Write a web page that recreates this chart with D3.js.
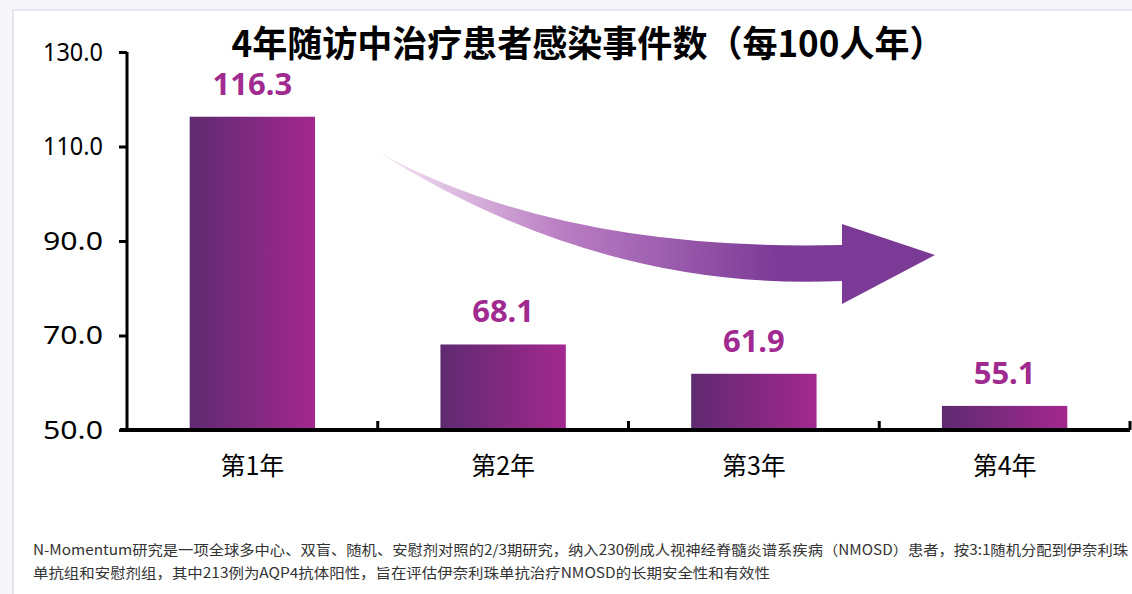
<!DOCTYPE html>
<html>
<head>
<meta charset="utf-8">
<script src="https://cdn.jsdelivr.net/npm/d3@7"></script>
<style>
	body { margin: 0; background: #f7f7fa; }
	svg { display: block; }
</style>
</head>
<body>
<div id="chart"></div>
<script>
// data
var categories = ["第1年", "第2年", "第3年", "第4年"];
var values = [116.3, 68.1, 61.9, 55.1];
var yTicks = [50, 70, 90, 110, 130];
var title = "4年随访中治疗患者感染事件数（每100人年）";
var footnotes = [
	"N-Momentum研究是一项全球多中心、双盲、随机、安慰剂对照的2/3期研究，纳入230例成人视神经脊髓炎谱系疾病（NMOSD）患者，按3:1随机分配到伊奈利珠",
	"单抗组和安慰剂组，其中213例为AQP4抗体阳性，旨在评估伊奈利珠单抗治疗NMOSD的长期安全性和有效性"
];

var W = 1132, H = 594;
var cjk = "'Noto Sans CJK SC', 'Noto Sans', sans-serif";
var num = "'Noto Sans', 'Noto Sans CJK SC', sans-serif";

var svg = d3.select("#chart")
	.append("svg")
		.attr("width", W)
		.attr("height", H);

var defs = svg.append("defs");
var barGrad = defs.append("linearGradient")
	.attr("id", "barGrad")
	.attr("x1", "0%").attr("x2", "100%").attr("y1", "0%").attr("y2", "0%");
barGrad.append("stop").attr("offset", "0%").attr("stop-color", "#5f2a70");
barGrad.append("stop").attr("offset", "100%").attr("stop-color", "#a3288f");

var arrowGrad = defs.append("linearGradient")
	.attr("id", "arrowGrad")
	.attr("gradientUnits", "userSpaceOnUse")
	.attr("x1", 378).attr("x2", 780).attr("y1", 0).attr("y2", 0);
arrowGrad.append("stop").attr("offset", "0%").attr("stop-color", "#f4e8f4");
arrowGrad.append("stop").attr("offset", "45%").attr("stop-color", "#bb7fc4");
arrowGrad.append("stop").attr("offset", "100%").attr("stop-color", "#7b3a96");

// panel frame
svg.append("rect")
	.attr("x", 13).attr("y", 10)
	.attr("width", W).attr("height", H)
	.attr("fill", "#ffffff")
	.attr("stroke", "#e6e4ee")
	.attr("stroke-width", 2);

// scales
var xScale = d3.scaleBand()
	.domain(categories)
	.range([127, 1130])
	.paddingInner(0.5)
	.paddingOuter(0.25);
var yScale = d3.scaleLinear()
	.domain([50, 130])
	.range([430, 52]);

// bars
svg.selectAll(".bar")
	.data(values)
	.enter().append("rect")
		.attr("class", "bar")
		.attr("x", (d, i) => xScale(categories[i]))
		.attr("y", d => yScale(d))
		.attr("width", xScale.bandwidth())
		.attr("height", d => yScale(50) - yScale(d))
		.attr("fill", "url(#barGrad)");

// value labels
svg.selectAll(".val")
	.data(values)
	.enter().append("text")
		.attr("class", "val")
		.attr("x", (d, i) => xScale(categories[i]) + xScale.bandwidth() / 2)
		.attr("y", d => yScale(d) - 22)
		.attr("text-anchor", "middle")
		.style("font", "bold 31px " + num)
		.attr("fill", "#a02a90")
		.text(d => d.toFixed(1));

// y axis
var yAxis = d3.axisLeft(yScale)
	.tickValues(yTicks)
	.tickSize(8)
	.tickPadding(16)
	.tickFormat(d3.format(".1f"));
var gy = svg.append("g")
	.attr("transform", "translate(127,0)")
	.call(yAxis);
gy.select(".domain").attr("stroke", "#000").attr("stroke-width", 3).attr("d", "M0,52V430");
gy.selectAll(".tick line").attr("stroke", "#000").attr("stroke-width", 3);
gy.selectAll(".tick text")
	.style("font", "25px " + num)
	.attr("fill", "#000")
	.attr("textLength", 60)
	.attr("lengthAdjust", "spacingAndGlyphs");

// x axis
var step = xScale.step();
var xAxis = d3.axisBottom(xScale).tickSize(0).tickPadding(26);
var gx = svg.append("g")
	.attr("transform", "translate(0,430)")
	.call(xAxis);
gx.select(".domain").attr("stroke", "#000").attr("stroke-width", 4).attr("d", "M120,0H1130");
gx.selectAll(".tick text")
	.style("font", "25px " + cjk)
	.attr("fill", "#000")
	.attr("dy", "0.75em");
gx.selectAll(".sep")
	.data(categories)
	.enter().append("line")
		.attr("class", "sep")
		.attr("x1", (d, i) => xScale(d) + xScale.bandwidth() + step * 0.25)
		.attr("x2", (d, i) => xScale(d) + xScale.bandwidth() + step * 0.25)
		.attr("y1", 0).attr("y2", -9)
		.attr("stroke", "#000")
		.attr("stroke-width", 3);

// trend arrow
svg.append("path")
	.attr("d", "M378,152 Q560,252 842,245 L842,224 L935,255 L842,304 L842,281 Q600,292 378,152 Z")
	.attr("fill", "url(#arrowGrad)");

// title
svg.append("text")
	.attr("x", 588)
	.attr("y", 57)
	.attr("text-anchor", "middle")
	.attr("textLength", 713)
	.attr("lengthAdjust", "spacingAndGlyphs")
	.style("font", "bold 36px " + cjk)
	.attr("fill", "#000")
	.text(title);

// footnote
svg.selectAll(".foot")
	.data(footnotes)
	.enter().append("text")
		.attr("class", "foot")
		.attr("x", 33)
		.attr("y", (d, i) => 555 + i * 23)
		.attr("textLength", (d, i) => i === 0 ? 1095 : 737)
		.attr("lengthAdjust", "spacingAndGlyphs")
		.style("font", "14px " + cjk)
		.attr("fill", "#333")
		.text(d => d);
</script>
</body>
</html>
